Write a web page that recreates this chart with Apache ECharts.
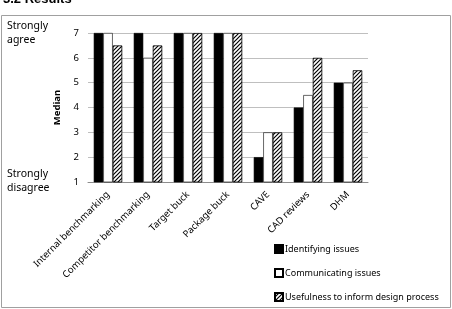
<!DOCTYPE html>
<html lang="en">
<head>
    <meta charset="UTF-8">
    <title>3.2 Results</title>
    <script src="https://cdn.jsdelivr.net/npm/echarts@6/dist/echarts.min.js"></script>
    <style>
        html, body { margin: 0; padding: 0; background: #fff; }
        #chart { width: 452px; height: 309px; }
    </style>
</head>
<body>
<div id="chart"></div>
<script>
    const categories = ['Internal benchmarking', 'Competitor benchmarking', 'Target buck', 'Package buck', 'CAVE', 'CAD reviews', 'DHM'];
    const identifying = [7, 7, 7, 7, 2, 4, 5];
    const communicating = [7, 6, 7, 7, 3, 4.5, 5];
    const usefulness = [6.5, 6.5, 7, 7, 3, 6, 5.5];
    const seriesNames = ['Identifying issues', 'Communicating issues', 'Usefulness to inform design process'];

    const FONT = 'Noto Sans';

    // diagonal hatch for the third series
    function hatch() {
        const c = document.createElement('canvas');
        c.width = 4; c.height = 4;
        const g = c.getContext('2d');
        g.fillStyle = '#fff';
        g.fillRect(0, 0, 4, 4);
        g.strokeStyle = '#000';
        g.lineWidth = 1.2;
        g.beginPath();
        g.moveTo(0, 4); g.lineTo(4, 0);
        g.moveTo(-1, 1); g.lineTo(1, -1);
        g.moveTo(3, 5); g.lineTo(5, 3);
        g.stroke();
        return c;
    }

    // one legend per entry so they stack like the original
    function legendAt(name, top) {
        return {
            orient: 'vertical',
            left: 269,
            top: top,
            itemWidth: 8,
            itemHeight: 8,
            icon: 'rect',
            textStyle: { fontFamily: FONT, fontSize: 9, color: '#000', padding: [0, 0, 0, -3] },
            data: [name]
        };
    }

    const chart = echarts.init(document.getElementById('chart'));

    chart.setOption({
        animation: false,
        textStyle: { fontFamily: FONT },
        grid: { left: 88, right: 84, top: 33, bottom: 127 },
        graphic: [
            { type: 'rect', shape: { x: 1.5, y: 15.5, width: 449, height: 292 },
              style: { fill: 'none', stroke: '#a0a0a0', lineWidth: 1 } },
            { type: 'text', left: 3, top: -7,
              style: { text: '3.2 Results', font: 'bold 13px Liberation Sans', fill: '#000' } },
            { type: 'text', left: 7, top: 19,
              style: { text: 'Strongly\nagree', font: '10.5px ' + FONT, fill: '#000', lineHeight: 14 } },
            { type: 'text', left: 7, top: 167,
              style: { text: 'Strongly\ndisagree', font: '10.5px ' + FONT, fill: '#000', lineHeight: 14 } }
        ],
        legend: [
            legendAt(seriesNames[0], 239),
            legendAt(seriesNames[1], 263),
            legendAt(seriesNames[2], 287)
        ],
        xAxis: {
            type: 'category',
            data: categories,
            axisLine: { lineStyle: { color: '#8c8c8c' } },
            axisTick: { show: false },
            axisLabel: { rotate: 45, fontSize: 9.5, color: '#000', margin: 11, interval: 0 }
        },
        yAxis: {
            type: 'value',
            min: 1,
            max: 7,
            interval: 1,
            name: 'Median',
            nameLocation: 'middle',
            nameGap: 23,
            nameTextStyle: { fontWeight: 'bold', fontSize: 9.5, color: '#000' },
            axisLine: { show: false },
            axisTick: { show: false },
            axisLabel: { fontSize: 9.5, color: '#000', margin: 9 },
            splitLine: { lineStyle: { color: '#bfbfbf' } }
        },
        series: [
            { name: seriesNames[0], type: 'bar', data: identifying, barWidth: 9.5, barGap: '0%',
              itemStyle: { color: '#000', borderColor: '#000', borderWidth: 0.6 } },
            { name: seriesNames[1], type: 'bar', data: communicating, barWidth: 9.5, barGap: '0%',
              itemStyle: { color: '#fff', borderColor: '#000', borderWidth: 0.6 } },
            { name: seriesNames[2], type: 'bar', data: usefulness, barWidth: 9.5, barGap: '0%',
              itemStyle: { color: { image: hatch(), repeat: 'repeat' }, borderColor: '#000', borderWidth: 0.8 } }
        ]
    });
</script>
</body>
</html>
